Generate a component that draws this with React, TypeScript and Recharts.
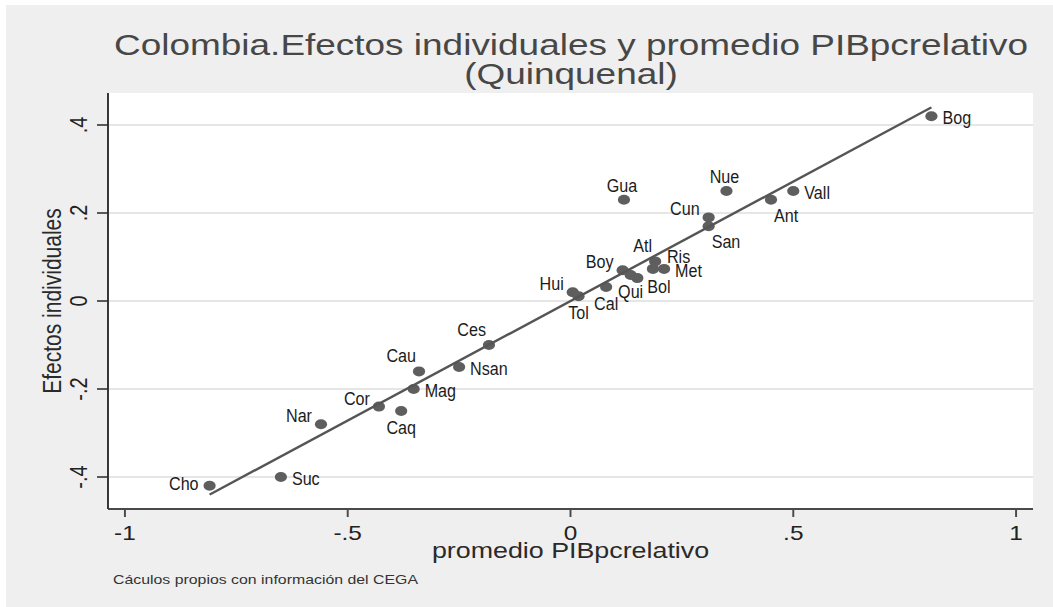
import React from 'react';
import { ScatterChart, Scatter, XAxis, YAxis, CartesianGrid } from 'recharts';

// the source picture is stretched horizontally, so draw narrower and scale X
const S = 1.22;
const W = 863;
const H = 607;
const FONT = "'Liberation Sans', Arial, Helvetica, sans-serif";

const deptos = ['Bog', 'Vall', 'Ant', 'Nue', 'Gua', 'Cun', 'San', 'Atl', 'Ris', 'Met', 'Bol', 'Qui', 'Boy', 'Cal', 'Hui', 'Tol', 'Ces', 'Cau', 'Nsan', 'Mag', 'Cor', 'Caq', 'Nar', 'Suc', 'Cho'];
const pibRelativo = [0.81, 0.5, 0.45, 0.35, 0.12, 0.31, 0.31, 0.19, 0.185, 0.21, 0.15, 0.135, 0.117, 0.08, 0.005, 0.018, -0.183, -0.34, -0.25, -0.352, -0.43, -0.38, -0.56, -0.65, -0.81];
const efectos = [0.42, 0.25, 0.23, 0.25, 0.23, 0.19, 0.17, 0.09, 0.073, 0.073, 0.052, 0.059, 0.07, 0.032, 0.02, 0.011, -0.1, -0.16, -0.15, -0.2, -0.24, -0.25, -0.28, -0.4, -0.42];

// fitted line end points
const fitX = [-0.81, 0.81];
const fitY = [-0.44, 0.44];

const xTicks = [-1, -0.5, 0, 0.5, 1];
const xTickLabels = ['-1', '-.5', '0', '.5', '1'];
const yTicks = [-0.4, -0.2, 0, 0.2, 0.4];
const yTickLabels = ['-.4', '-.2', '0', '.2', '.4'];

// marker label clock position (like mlabvposition)
const labelClock: Record<string, number> = {
  Bog: 3, Vall: 3, Ant: 5, Nue: 12, Gua: 12, Cun: 10, San: 5, Atl: 11, Ris: 2, Met: 3,
  Bol: 4, Qui: 6, Boy: 10, Cal: 6, Hui: 10, Tol: 6, Ces: 11, Cau: 11, Nsan: 3, Mag: 3,
  Cor: 10, Caq: 6, Nar: 10, Suc: 3, Cho: 9,
};

// offsets in screen pixels
const clockOffsets: Record<number, { dx: number; dy: number; anchor: 'start' | 'middle' | 'end' }> = {
  2: { dx: 14, dy: -6, anchor: 'start' },
  3: { dx: 11, dy: 8, anchor: 'start' },
  4: { dx: 10, dy: 15, anchor: 'start' },
  5: { dx: 3, dy: 22, anchor: 'start' },
  6: { dx: 0, dy: 23, anchor: 'middle' },
  9: { dx: -11, dy: 4, anchor: 'end' },
  10: { dx: -9, dy: -2, anchor: 'end' },
  11: { dx: -3, dy: -9, anchor: 'end' },
  12: { dx: -2, dy: -8, anchor: 'middle' },
};

const points = deptos.map((name, i) => ({ name, x: pibRelativo[i], y: efectos[i] }));
const fitPoints = fitX.map((x, i) => ({ x, y: fitY[i] }));

const PLOT_LEFT = 108 / S;
const PLOT_RIGHT = 1033 / S;
const PLOT_TOP = 93;
const PLOT_BOTTOM = 509;
const AXIS_W = 60;
const AXIS_H = 60;

const MarkerWithLabel = (props: any) => {
  const { cx, cy, payload } = props;
  const pos = clockOffsets[labelClock[payload.name] ?? 3];
  return (
    <g>
      <circle cx={cx} cy={cy} r={5} fill="#5e5e5e" />
      <text
        transform={`translate(${cx + pos.dx / S},${cy + pos.dy}) scale(0.715,1)`}
        textAnchor={pos.anchor}
        fontSize={18.5}
        fontFamily={FONT}
        fill="#1c1c1c"
      >
        {payload.name}
      </text>
    </g>
  );
};

const XTick = (props: any) => {
  const { x, payload } = props;
  const i = xTicks.indexOf(payload.value);
  return (
    <text x={x} y={540} textAnchor="middle" fontSize={20} fontFamily={FONT} fill="#222">
      {xTickLabels[i]}
    </text>
  );
};

const YTick = (props: any) => {
  const { y, payload } = props;
  const i = yTicks.indexOf(payload.value);
  return (
    <text
      transform={`translate(${71},${y}) rotate(-90)`}
      textAnchor="middle"
      fontSize={20}
      fontFamily={FONT}
      fill="#222"
    >
      {yTickLabels[i]}
    </text>
  );
};

export default function App() {
  return (
    <div style={{ position: 'absolute', left: 0, top: 0, width: 1053, height: H, background: '#fff', overflow: 'hidden' }}>
      <div style={{ position: 'absolute', left: 6, top: 5, right: 0, bottom: 0, background: '#efefef' }} />
      <div style={{ position: 'absolute', left: 0, top: 0, width: W, height: H, transform: `scaleX(${S})`, transformOrigin: '0 0' }}>
        <ScatterChart
          width={W}
          height={H}
          margin={{ top: PLOT_TOP, right: W - PLOT_RIGHT, bottom: H - PLOT_BOTTOM - AXIS_H, left: PLOT_LEFT - AXIS_W }}
        >
          <CartesianGrid vertical={false} horizontalValues={yTicks} stroke="#e6e6e6" strokeWidth={2} fill="#ffffff" />
          <XAxis
            type="number"
            dataKey="x"
            domain={[-1.038, 1.038]}
            ticks={xTicks}
            allowDataOverflow
            height={AXIS_H}
            tickSize={8}
            tick={<XTick />}
            axisLine={{ stroke: '#4a4a4a', strokeWidth: 2 }}
            tickLine={{ stroke: '#4a4a4a', strokeWidth: 1.6 }}
            label={{
              content: (p: any) => (
                <text
                  x={p.viewBox.x + p.viewBox.width / 2}
                  y={p.viewBox.y + 49}
                  textAnchor="middle"
                  fontSize={22}
                  fontFamily={FONT}
                  fill="#2a2a2a"
                >
                  promedio PIBpcrelativo
                </text>
              ),
            }}
          />
          <YAxis
            type="number"
            dataKey="y"
            domain={[-0.4727, 0.4727]}
            ticks={yTicks}
            allowDataOverflow
            width={AXIS_W}
            tickSize={9}
            tick={<YTick />}
            axisLine={{ stroke: '#333', strokeWidth: 1.6 }}
            tickLine={{ stroke: '#333', strokeWidth: 1.6 }}
            label={{
              content: (p: any) => (
                <text
                  transform={`translate(${50},${p.viewBox.y + p.viewBox.height / 2}) rotate(-90)`}
                  textAnchor="middle"
                  fontSize={21}
                  fontFamily={FONT}
                  fill="#2a2a2a"
                >
                  Efectos individuales
                </text>
              ),
            }}
          />
          <Scatter data={points} shape={<MarkerWithLabel />} isAnimationActive={false} />
          <Scatter
            data={fitPoints}
            line={{ stroke: '#555', strokeWidth: 2.3 }}
            lineType="joint"
            shape={() => <g />}
            isAnimationActive={false}
          />
        </ScatterChart>
        <svg width={W} height={H} style={{ position: 'absolute', left: 0, top: 0, pointerEvents: 'none' }}>
          <text x={571 / S} y={55} textAnchor="middle" fontSize={30.3} fontFamily={FONT} fill="#474747">
            Colombia.Efectos individuales y promedio PIBpcrelativo
          </text>
          <text x={571 / S} y={84} textAnchor="middle" fontSize={30.3} fontFamily={FONT} fill="#474747">
            (Quinquenal)
          </text>
          <text x={113 / S} y={584} fontSize={13} fontFamily={FONT} fill="#333">
            Cáculos propios con información del CEGA
          </text>
        </svg>
      </div>
    </div>
  );
}
